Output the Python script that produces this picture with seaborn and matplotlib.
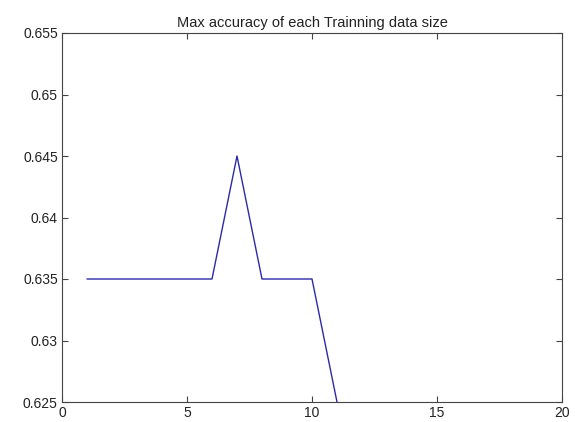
import matplotlib
matplotlib.use("Agg")
import matplotlib.pyplot as plt
import seaborn as sns
import pandas as pd

train_size = [1, 2, 3, 4, 5, 6, 7, 8, 9, 10, 11]
max_accuracy = [0.635, 0.635, 0.635, 0.635, 0.635, 0.635, 0.645, 0.635, 0.635, 0.635, 0.625]
x_ticks = [0, 5, 10, 15, 20]
y_ticks = [0.625, 0.63, 0.635, 0.64, 0.645, 0.65, 0.655]
y_labels = ["0.625", "0.63", "0.635", "0.64", "0.645", "0.65", "0.655"]

sns.set_theme(style="white")
plt.rcParams['font.family'] = ['Liberation Sans', 'DejaVu Sans']

df = pd.DataFrame({"size": train_size, "acc": max_accuracy})

fig = plt.figure(figsize=(5.75, 4.22), dpi=100)
ax = fig.add_axes([62/575, 1-402/422, 500/575, 369/422])
sns.lineplot(data=df, x="size", y="acc", ax=ax, color="#2a2aa8", linewidth=1.0)

ax.set_xlim(0, 20)
ax.set_ylim(0.625, 0.655)
ax.set_xticks(x_ticks)
ax.set_xticklabels([str(t) for t in x_ticks])
ax.set_yticks(y_ticks)
ax.set_yticklabels(y_labels)
ax.set_xlabel("")
ax.set_ylabel("")
ax.set_title("Max accuracy of each Trainning data size", fontsize=10.5, pad=4, color="#222222")
ax.tick_params(direction="in", length=4, width=0.8, labelsize=10, colors="#444444",
               labelcolor="#222222", top=True, right=True, bottom=True, left=True, pad=3)
for s in ax.spines.values():
    s.set_visible(True)
    s.set_color("#444444")
    s.set_linewidth(0.8)

fig.savefig("out.png", dpi=100, facecolor="white")
